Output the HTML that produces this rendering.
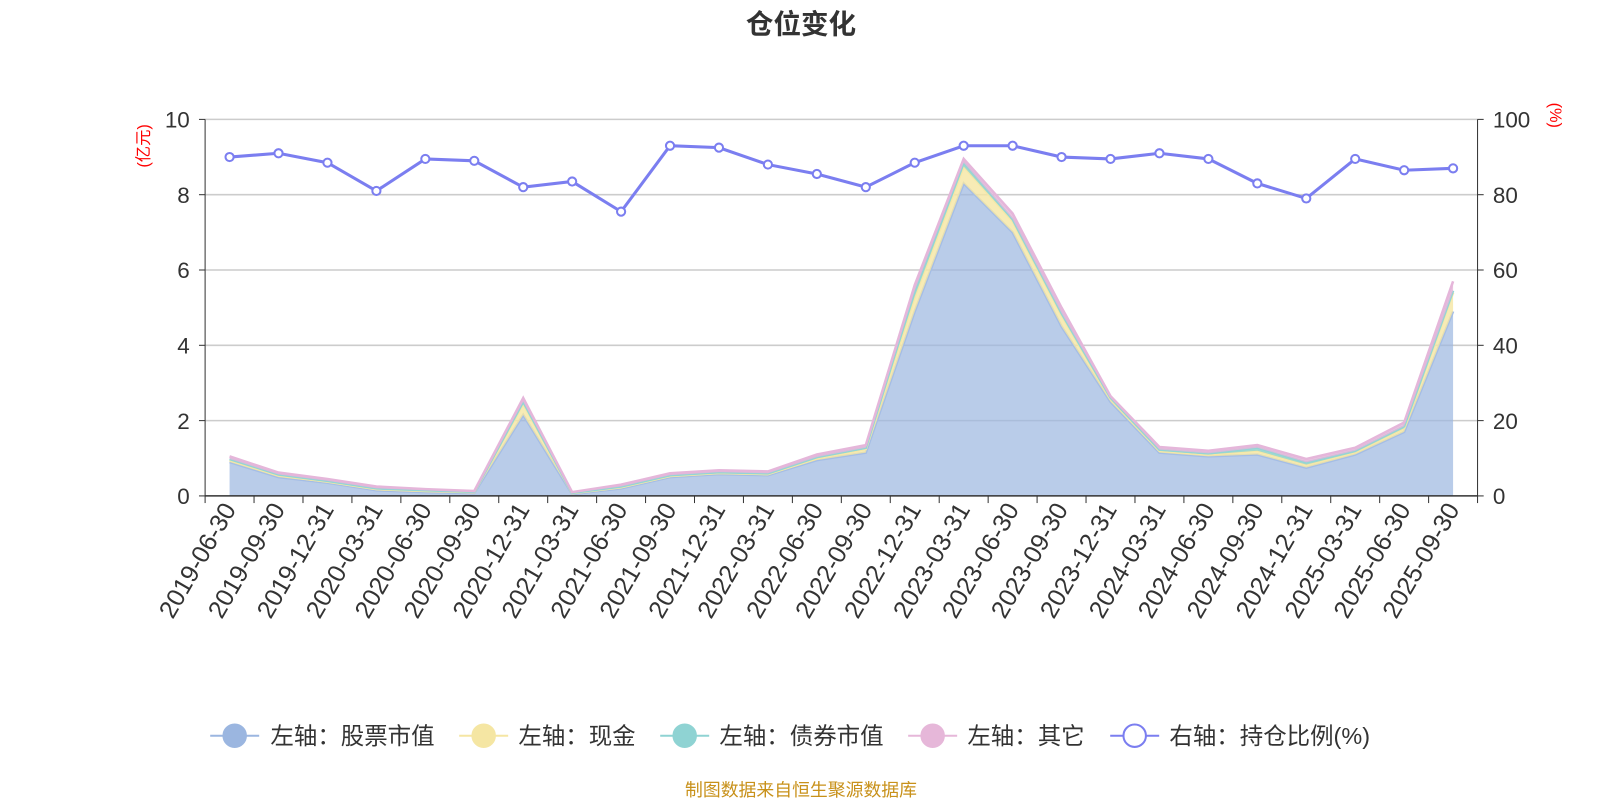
<!DOCTYPE html>
<html><head><meta charset="utf-8"><style>
body{margin:0;background:#fff;width:1600px;height:800px;overflow:hidden}
text{font-family:"Liberation Sans","Noto Sans CJK SC",sans-serif}
</style></head><body>
<svg id="c" width="1600" height="800" viewBox="0 0 1568 784" xmlns="http://www.w3.org/2000/svg"></svg>
<script>
const categories=["2019-06-30","2019-09-30","2019-12-31","2020-03-31","2020-06-30","2020-09-30","2020-12-31","2021-03-31","2021-06-30","2021-09-30","2021-12-31","2022-03-31","2022-06-30","2022-09-30","2022-12-31","2023-03-31","2023-06-30","2023-09-30","2023-12-31","2024-03-31","2024-06-30","2024-09-30","2024-12-31","2025-03-31","2025-06-30","2025-09-30"];
const stockValues=[0.9,0.5,0.35,0.15,0.1,0.08,2.15,0.05,0.2,0.5,0.58,0.55,0.95,1.15,4.9,8.3,7.0,4.5,2.5,1.15,1.05,1.1,0.75,1.1,1.7,4.9];
const cashValues=[0.05,0.05,0.03,0.03,0.03,0.02,0.3,0.02,0.03,0.03,0.03,0.03,0.05,0.1,0.4,0.45,0.3,0.3,0.08,0.05,0.05,0.1,0.08,0.06,0.1,0.5];
const bondValues=[0.03,0.02,0.02,0.02,0.02,0.01,0.05,0.01,0.02,0.02,0.02,0.02,0.03,0.03,0.15,0.1,0.05,0.05,0.03,0.03,0.03,0.08,0.06,0.04,0.05,0.05];
const otherValues=[0.07,0.05,0.05,0.05,0.03,0.02,0.1,0.02,0.05,0.05,0.05,0.05,0.07,0.07,0.15,0.1,0.15,0.15,0.04,0.07,0.07,0.07,0.09,0.08,0.1,0.25];
const ratioValues=[90,91,88.5,81,89.5,89,82,83.5,75.5,93,92.5,88,85.5,82,88.5,93,93,90,89.5,91,89.5,83,79,89.5,86.5,87];
const leftTicks=[0,2,4,6,8,10];
const rightTicks=[0,20,40,60,80,100];

const svg=document.getElementById('c');const NS="http://www.w3.org/2000/svg";
function mk(t,a,p){const e=document.createElementNS(NS,t);for(const k in a)e.setAttribute(k,a[k]);(p||svg).appendChild(e);return e;}
const X0=201,X1=1448,Y0=486,Y1=117,bw=(X1-X0)/categories.length;
const xp=i=>X0+bw*(i+0.5);
const yL=v=>Y0-(v/10)*(Y0-Y1);
const yR=v=>Y0-(v/100)*(Y0-Y1);

let t=mk('text',{x:785,y:33,'text-anchor':'middle','font-size':27,'font-weight':'bold',fill:'#333'});t.textContent='仓位变化';


leftTicks.forEach((v,i)=>{
  if(v>0){const g=mk('line',{x1:X0,x2:X1,y1:yL(v),y2:yL(v),stroke:'#ccc','stroke-width':1.5});}
  let a=mk('text',{x:186,y:yL(v)+8,'text-anchor':'end','font-size':22,fill:'#333'});a.textContent=v;
  
  mk('line',{x1:195,x2:X0,y1:yL(v),y2:yL(v),stroke:'#333'});
  let b=mk('text',{x:1463,y:yR(rightTicks[i])+8,'font-size':22,fill:'#333'});b.textContent=rightTicks[i];
  
  mk('line',{x1:X1,x2:X1+6,y1:yR(rightTicks[i]),y2:yR(rightTicks[i]),stroke:'#333'});
});
mk('line',{x1:X0,x2:X0,y1:Y1,y2:Y0,stroke:'#333'});
mk('line',{x1:X1,x2:X1,y1:Y1,y2:Y0,stroke:'#333'});
t=mk('text',{transform:'translate(146,143) rotate(-90)','text-anchor':'middle','font-size':16,fill:'red'});t.textContent='(亿元)';

t=mk('text',{transform:'translate(1519,113) rotate(90)','text-anchor':'middle','font-size':16,fill:'red'});t.textContent='(%)';


const series=[[stockValues,'#9bb6e0','#a4bde6'],[cashValues,'#f5e6a3','#f6e8a6'],[bondValues,'#8fd3d3','#93d5d5'],[otherValues,'#e6b7d9','#e5b6da']];
let base=categories.map(()=>0);
const names=['stock-area','cash-area','bond-area','other-area'];
series.forEach((s,si)=>{
  const top=base.map((b,i)=>b+s[0][i]);
  let d='M'+categories.map((c,i)=>xp(i)+','+yL(top[i])).join('L');
  let ad=d+'L'+categories.map((c,i)=>i).reverse().map(i=>xp(i)+','+yL(base[i])).join('L')+'Z';
  const a=mk('path',{d:ad,fill:s[1],'fill-opacity':si==0?0.7:0.8});
  
  const l=mk('path',{d:d,fill:'none',stroke:s[2],'stroke-width':2.5});
  
  base=top;
});
mk('line',{x1:X0,x2:X1,y1:Y0,y2:Y0,stroke:'#333','stroke-width':1.5});
for(let i=0;i<=categories.length;i++){mk('line',{x1:X0+bw*i,x2:X0+bw*i,y1:Y0,y2:Y0+7,stroke:'#333'});}
categories.forEach((c,i)=>{
  const e=mk('text',{transform:`translate(${xp(i)+7},${Y0+13}) rotate(-60)`,'text-anchor':'end','font-size':24.5,fill:'#333'});e.textContent=c;
  
});
const rl=mk('path',{d:'M'+ratioValues.map((v,i)=>xp(i)+','+yR(v)).join('L'),fill:'none',stroke:'#7b7ef0','stroke-width':3});

ratioValues.forEach((v,i)=>{const p=mk('circle',{cx:xp(i),cy:yR(v),r:4,fill:'#fff',stroke:'#7b7ef0','stroke-width':2});
  });

const leg=[[206,265,'#9bb6e0','左轴：股票市值',true],[450,508,'#f5e6a3','左轴：现金',true],[647,705,'#8fd3d3','左轴：债券市值',true],[890,948,'#e6b7d9','左轴：其它',true],[1088,1146,'#7b7ef0','右轴：持仓比例(%)',false]];
leg.forEach(l=>{
  const g=mk('g',{});
  mk('line',{x1:l[0],x2:l[0]+48,y1:721,y2:721,stroke:l[2],'stroke-width':2},g);
  mk('circle',{cx:l[0]+24,cy:721,r:11,fill:l[4]?l[2]:'#fff',stroke:l[2],'stroke-width':2},g);
  const tx=mk('text',{x:l[1],y:729,'font-size':23,fill:'#333'},g);tx.textContent=l[3];
});
t=mk('text',{x:785,y:780,'text-anchor':'middle','font-size':17.5,fill:'#c8911a'});t.textContent='制图数据来自恒生聚源数据库';

</script>
</body></html>
